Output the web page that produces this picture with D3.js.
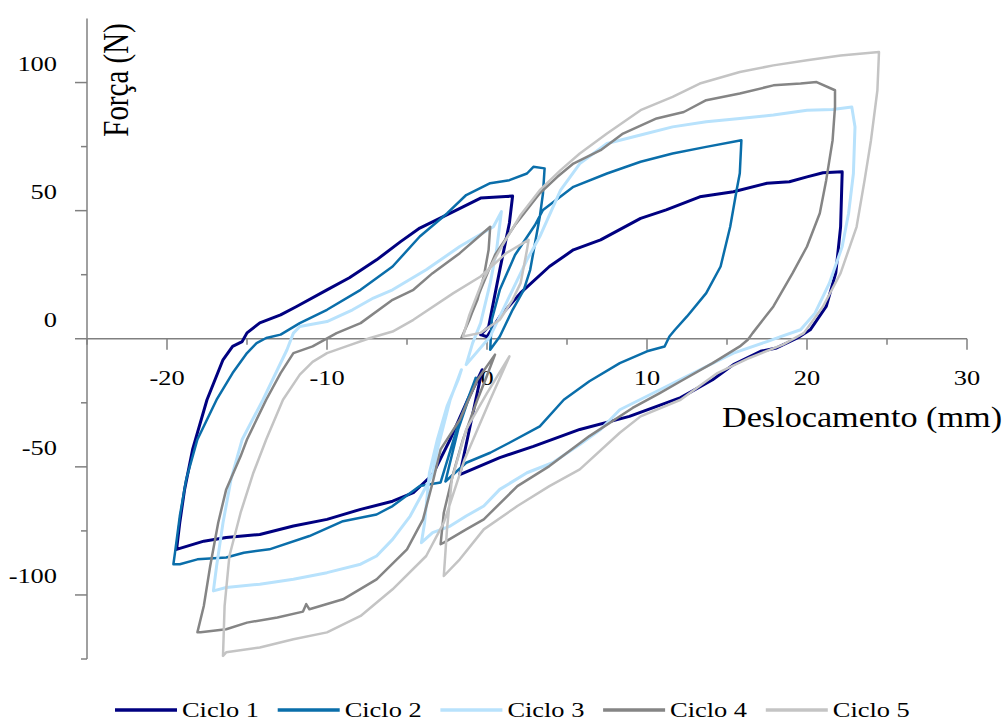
<!DOCTYPE html>
<html>
<head>
<meta charset="utf-8">
<script src="https://cdn.jsdelivr.net/npm/d3@7"></script>
<style>
  html, body { margin: 0; padding: 0; background: #ffffff; }
  svg { display: block; }
  text { font-family: "Liberation Serif", "Times New Roman", serif; fill: #000; }
</style>
</head>
<body>
<svg id="chart" width="1006" height="722"></svg>
<script>
// Hysteresis loops: displacement (mm) vs force (N), five load cycles.

const seriesNames = ["Ciclo 1", "Ciclo 2", "Ciclo 3", "Ciclo 4", "Ciclo 5"];
const seriesColors = ["#000080", "#0A6EAA", "#B8E2FC", "#858585", "#C4C4C4"];

const xTicks = [-20, -10, 0, 10, 20, 30];
const yTicks = [-100, -50, 0, 50, 100];

const ciclo1 = [
  [-0.4,1.6],[0.0,0.8],[0.8,8.7],[2.1,17.9],[3.9,28.2],[5.4,34.7],[7.1,38.6],[9.6,47.0],[11.2,50.3],
  [13.3,55.4],[15.4,57.4],[17.5,60.7],[18.9,61.3],[20.0,63.2],[21.0,64.8],[22.2,65.2],
  [22.1,43.7],[21.8,25.7],[21.2,12.6],[20.2,3.5],[19.4,0.3],[18.1,-3.6],[17.1,-4.9],[15.4,-10.1],
  [14.1,-16.0],[12.1,-23.0],[8.9,-30.3],[5.8,-35.4],[2.9,-42.0],[0.8,-46.4],[-1.7,-53.0],
  [-1.1,-35.4],[-0.3,-12.1],[-1.2,-23.8],[-2.3,-39.3],[-3.4,-53.0],
  [-4.6,-60.1],[-5.9,-63.4],[-7.9,-66.6],[-10.0,-70.5],[-12.1,-73.1],[-14.2,-76.4],[-16.3,-77.6],
  [-17.7,-79.0],[-19.4,-82.2],
  [-19.2,-71.7],[-18.9,-58.8],[-18.4,-43.2],[-17.5,-23.8],[-16.5,-8.2],[-15.9,-3.0],[-15.3,-1.1],
  [-15.0,2.3],[-14.2,6.2],[-12.9,9.3],[-11.9,12.6],[-10.0,19.1],[-8.6,23.8],[-6.9,30.8],[-5.4,37.9],
  [-4.2,43.2],[-2.1,49.6],[-0.4,54.9],[1.6,55.7],
  [1.4,45.2],[0.8,26.9],[0.1,4.7],[-0.4,1.6]
];

const ciclo2 = [
  [0.2,-4.3],[0.3,7.4],[0.8,19.1],[1.75,32.7],[3.0,44.4],[3.5,50.3],[5.4,59.3],[7.5,64.5],[9.6,69.1],
  [11.6,72.3],[13.7,74.9],[15.9,77.5],
  [15.8,64.6],[15.6,58.0],[15.2,43.7],[14.6,28.2],[13.7,17.8],[12.5,8.7],[11.75,3.5],[11.4,0.9],
  [11.1,-3.0],[10.0,-4.9],[8.3,-9.5],[6.4,-16.6],[4.8,-23.8],[3.3,-34.2],[1.4,-40.6],[0.2,-44.5],
  [-1.3,-48.4],[-2.6,-55.7],
  [-1.8,-35.4],[-0.7,-15.2],[-1.8,-33.5],[-2.9,-56.1],
  [-4.2,-57.5],[-5.9,-65.3],[-6.9,-68.6],[-9.0,-71.2],[-11.1,-77.0],[-13.6,-82.2],[-15.2,-83.5],
  [-16.3,-85.4],[-18.1,-86.1],[-19.2,-88.0],[-19.6,-88.0],
  [-19.5,-83.5],[-19.2,-69.2],[-18.8,-54.9],[-18.1,-39.3],[-16.9,-23.8],[-15.9,-13.4],[-15.0,-5.6],
  [-14.4,-1.7],[-13.8,0.3],[-12.9,1.6],[-11.7,6.1],[-10.0,11.3],[-7.9,19.1],[-5.9,28.2],[-4.2,39.9],
  [-2.5,48.9],[-1.3,56.1],[0.2,60.7],[1.4,61.9],[2.5,64.5],[2.9,67.1],[3.6,66.5],
  [3.5,56.8],[3.3,47.6],[3.0,37.3],[2.7,26.9],[2.3,19.1],[1.6,11.3],[0.8,0.9],[0.2,-4.3]
];

const ciclo3 = [
  [-1.3,-10.1],[0.2,0.9],[0.8,8.7],[1.6,19.1],[2.5,30.8],[3.3,39.9],[4.6,58.0],[5.8,68.4],[7.5,76.2],
  [9.6,79.5],[11.6,82.7],[13.7,84.7],[15.8,86.0],[17.9,87.3],[20.0,89.2],[21.6,89.5],[22.8,90.5],
  [23.0,82.7],[22.9,64.5],[22.6,49.0],[22.2,36.0],[21.4,21.7],[20.5,10.0],[19.6,3.5],[18.4,0.9],
  [17.5,-1.1],[15.4,-5.6],[13.3,-12.1],[10.8,-19.9],[8.3,-27.7],[7.1,-35.4],[5.8,-41.3],[4.1,-48.4],
  [2.5,-52.3],[0.8,-58.8],[-0.2,-65.3],[-1.3,-69.2],[-2.3,-73.1],[-3.4,-75.7],[-4.1,-79.6],
  [-3.9,-71.8],[-3.6,-52.3],[-3.1,-39.3],[-2.5,-26.4],[-1.8,-16.0],[-1.6,-12.1],
  [-2.3,-23.8],[-3.1,-43.2],[-3.4,-53.0],
  [-4.8,-69.2],[-5.9,-78.3],[-6.9,-84.8],[-7.9,-88.0],[-10.0,-91.3],[-12.1,-93.9],[-14.2,-95.8],
  [-16.3,-97.1],[-17.1,-98.4],
  [-16.9,-88.7],[-16.5,-71.8],[-16.0,-54.9],[-15.3,-39.3],[-14.0,-23.8],[-13.1,-12.1],[-12.5,-4.3],
  [-12.1,2.2],[-11.7,4.8],[-10.0,6.7],[-8.4,11.3],[-7.1,15.9],[-5.9,19.1],[-3.8,26.9],[-1.7,36.0],
  [0.4,43.7],[0.9,49.6],
  [0.6,34.7],[0.2,21.7],[-0.4,6.1],[-0.9,-1.7],[-1.3,-10.1]
];

const ciclo4 = [
  [-1.6,0.3],[-1.1,7.4],[-0.4,19.1],[0.5,32.7],[1.75,44.4],[3.3,56.8],[4.4,63.2],[5.4,68.4],[7.1,73.6],
  [8.5,80.1],[10.6,86.0],[12.3,88.5],[13.7,93.1],[15.8,95.7],[17.9,98.9],[19.6,99.6],[20.6,100.2],
  [21.75,97.0],
  [21.75,90.5],[21.6,77.5],[21.2,61.9],[20.8,49.0],[20.0,36.0],[19.1,25.6],[17.9,12.6],[16.6,2.2],
  [16.3,-0.4],[15.8,-3.0],[14.1,-9.5],[12.1,-16.6],[10.8,-21.2],[9.1,-27.0],[6.4,-38.0],[3.9,-49.7],
  [1.9,-57.5],[-0.2,-70.5],[-1.3,-74.4],[-2.7,-79.6],[-2.9,-80.2],
  [-2.7,-67.9],[-2.1,-52.3],[-1.5,-39.3],[-0.6,-23.8],[-0.1,-16.0],[0.5,-6.2],
  [-0.6,-16.0],[-1.7,-31.6],[-2.9,-43.2],
  [-3.4,-56.2],[-4.0,-70.5],[-5.0,-82.2],[-6.9,-93.9],[-9.0,-101.7],[-11.1,-105.6],[-11.3,-103.6],
  [-11.5,-106.5],[-13.1,-108.8],[-15.0,-110.8],[-16.3,-113.4],[-17.9,-114.6],[-18.1,-114.6],
  [-17.7,-104.3],[-17.3,-88.7],[-16.8,-71.8],[-16.3,-58.8],[-15.4,-45.9],[-15.0,-39.3],[-13.8,-23.8],
  [-12.9,-13.4],[-12.1,-5.6],[-10.9,-3.0],[-9.4,2.2],[-7.9,6.1],[-5.9,15.2],[-4.6,19.1],[-3.4,25.6],
  [-1.7,33.4],[0.2,43.7],
  [0.1,34.7],[-0.2,24.3],[-0.6,15.2],[-1.2,6.1],[-1.6,0.3]
];

const ciclo5 = [
  [-1.5,0.9],[-1.1,9.3],[-0.25,23.0],[0.8,34.7],[2.1,48.3],[3.3,58.0],[4.6,65.8],[5.8,72.3],[7.5,80.1],
  [9.6,89.2],[11.6,94.4],[13.3,99.6],[15.8,104.1],[17.9,106.7],[20.0,108.7],[22.1,110.6],[24.5,111.9],
  [24.4,97.0],[24.0,77.5],[23.6,61.9],[23.1,43.7],[22.1,25.6],[21.0,12.6],[19.8,2.2],[18.5,-2.3],
  [16.4,-7.5],[14.4,-13.4],[12.1,-23.8],[9.6,-30.3],[8.3,-36.7],[5.8,-51.0],[3.9,-57.5],[1.9,-65.3],
  [-0.2,-74.4],[-1.7,-86.1],[-2.7,-92.6],
  [-2.5,-74.4],[-2.2,-54.9],[-1.3,-35.4],[0.0,-21.2],[1.4,-6.9],
  [0.2,-23.8],[-1.4,-47.1],[-2.7,-71.8],
  [-3.8,-84.8],[-5.9,-97.8],[-7.9,-108.2],[-10.0,-114.6],[-12.1,-117.3],[-14.2,-120.5],[-16.3,-122.4],
  [-16.5,-123.8],
  [-16.4,-104.3],[-16.1,-84.8],[-15.4,-67.9],[-14.6,-52.3],[-13.8,-39.3],[-12.75,-23.8],[-11.7,-14.0],
  [-10.9,-9.0],[-10.0,-5.6],[-8.8,-3.0],[-7.3,0.3],[-5.9,2.8],[-4.6,7.4],[-2.1,17.8],[-0.4,24.3],
  [1.2,33.4],[2.6,38.6],
  [2.5,34.7],[2.1,21.7],[1.6,15.2],[0.8,7.4],[-0.4,2.3],[-1.5,0.9]
];

const cycles = [ciclo1, ciclo2, ciclo3, ciclo4, ciclo5];
const strokeWidths = [3, 2.5, 3, 2.5, 2.5];

const svg = d3.select("#chart");

const x = d3.scaleLinear().domain([-25, 30]).range([87, 967]);
const y = d3.scaleLinear().domain([-125, 125]).range([659, 18.5]);

const axisColor = "#808080";
const textScale = 1.2;   // wide serif lettering

// Y axis at x = -25
const yAxisG = svg.append("g").attr("transform", `translate(${x(-25)},0)`);
yAxisG.append("line")
  .attr("x1", 0).attr("x2", 0)
  .attr("y1", y(125)).attr("y2", y(-125))
  .attr("stroke", axisColor).attr("stroke-width", 1.5);
d3.range(-125, 101, 25).forEach(v => {
  const major = v % 50 === 0;
  yAxisG.append("line")
    .attr("x1", major ? -12 : -6).attr("x2", 0)
    .attr("y1", y(v)).attr("y2", y(v))
    .attr("stroke", axisColor).attr("stroke-width", 1.5);
});
yTicks.forEach(v => {
  svg.append("text")
    .attr("transform", `translate(57,${y(v) - 12}) scale(${textScale},1)`)
    .attr("text-anchor", "end")
    .attr("font-size", 22)
    .text(v);
});

// X axis at force 0
const xAxisG = svg.append("g").attr("transform", `translate(0,${y(0)})`);
xAxisG.append("line")
  .attr("x1", x(-25)).attr("x2", x(30))
  .attr("y1", 0).attr("y2", 0)
  .attr("stroke", axisColor).attr("stroke-width", 1.5);
d3.range(-25, 31, 5).forEach(v => {
  const major = v % 10 === 0;
  xAxisG.append("line")
    .attr("x1", x(v)).attr("x2", x(v))
    .attr("y1", 0).attr("y2", major ? 11 : 6)
    .attr("stroke", axisColor).attr("stroke-width", 1.5);
});
xTicks.forEach(v => {
  svg.append("text")
    .attr("transform", `translate(${x(v)},${y(0) + 46}) scale(${textScale},1)`)
    .attr("text-anchor", "middle")
    .attr("font-size", 22)
    .text(v);
});

// Loops
const line = d3.line().x(d => x(d[0])).y(d => y(d[1]));
cycles.forEach((data, i) => {
  svg.append("path")
    .datum(data)
    .attr("d", line)
    .attr("fill", "none")
    .attr("stroke", seriesColors[i])
    .attr("stroke-width", strokeWidths[i])
    .attr("stroke-linejoin", "round")
    .attr("stroke-linecap", "round");
});

// Axis titles
svg.append("text")
  .attr("transform", `translate(862,427) scale(${textScale},1)`)
  .attr("text-anchor", "middle")
  .attr("font-size", 28.5)
  .text("Deslocamento (mm)");

svg.append("text")
  .attr("transform", `translate(128,80) scale(${textScale},1) rotate(-90)`)
  .attr("text-anchor", "middle")
  .attr("font-size", 29)
  .text("Força (N)");

// Legend
const legend = svg.append("g");
seriesNames.forEach((name, i) => {
  const x0 = 115 + i * 162.7;
  legend.append("line")
    .attr("x1", x0).attr("x2", x0 + 62)
    .attr("y1", 710).attr("y2", 710)
    .attr("stroke", seriesColors[i]).attr("stroke-width", 3.5);
  legend.append("text")
    .attr("transform", `translate(${x0 + 67},717) scale(${textScale},1)`)
    .attr("font-size", 22)
    .text(name);
});
</script>
</body>
</html>
